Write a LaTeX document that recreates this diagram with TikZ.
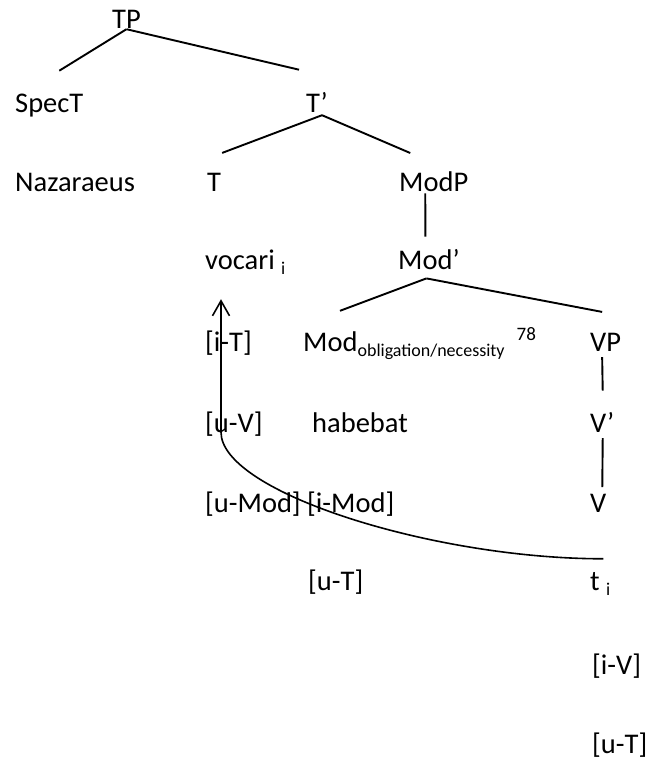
\documentclass[tikz,border=0pt]{standalone}
\usepackage{fontspec}
\setmainfont{Carlito}
\usetikzlibrary{calc, arrows.meta}

\newcommand{\lowidx}[1]{\raisebox{-5pt}{\fontsize{18}{20}\selectfont #1}}
\newcommand{\highidx}[1]{\raisebox{11pt}{\fontsize{19}{20}\selectfont #1}}

\begin{document}
\begin{tikzpicture}[x=1pt, y=-1pt,
    every node/.style={font=\fontsize{28.5}{34}\selectfont, inner sep=0pt, anchor=base west},
    branch/.style={line width=1.9pt},
    movearrow/.style={line width=1.6pt, -{Straight Barb[length=15pt,width=17pt]}}]

  \useasboundingbox (0,0) rectangle (646,760);

  % tree
  \node (tp) at (112,29) {TP};
  \node (spect) at (15,112) {SpecT};
  \node (tbar) at (306,112) {T’};
  \node (naz) at (15,191) {Nazaraeus};
  \node (t) at (207,191) {T};
  \node (modp) at (399,191) {ModP};
  \node (vocari) at (205,269) {vocari \lowidx{i}};
  \node (modbar) at (398,269) {Mod’};
  \node (mod) at (303,351) {Mod\lowidx{obligation/necessity}\hspace{12pt}\highidx{78}};
  \node (vp) at (590,351) {VP};
  \node (habebat) at (312,432) {habebat};
  \node (vbar) at (590,432) {V’};
  \node (v) at (590,512) {V};
  \node (trace) at (590,590) {t \lowidx{i}};

  % features
  \node (it) at (205,351) {[i-T]};
  \node (uv) at (205,432) {[u-V]};
  \node (umod) at (205,512) {[u-Mod]};
  \node (imod) at (307,512) {[i-Mod]};
  \node (ut) at (308,590) {[u-T]};
  \node (iv) at (592,674) {[i-V]};
  \node (utr) at (592,753) {[u-T]};

  \draw[branch] (tp.south) -- ($(spect.north)+(10pt,22.6pt)$);
  \draw[branch] (tp.south) -- ($(tbar.north)+(-18pt,22pt)$);
  \draw[branch] ($(tbar.south)+(5pt,-3pt)$) -- ($(t.north)+(8pt,19.6pt)$);
  \draw[branch] ($(tbar.south)+(5pt,-3pt)$) -- ($(modp.north)+(-23.5pt,18pt)$);
  \draw[branch] ($(modp.south)+(-8.5pt,-2pt)$) -- ($(modbar.north)+(-3.5pt,12pt)$);
  \draw[branch] ($(modbar.south)+(-2.5pt,-9pt)$) -- ($(mod.north west)+(37pt,16pt)$);
  \draw[branch] ($(modbar.south)+(-2.5pt,-9pt)$) -- ($(vp.north)+(-3.5pt,20.6pt)$);
  \draw[branch] ($(vp.south)+(-3.5pt,-6pt)$) -- ($(vbar.north)+(0.5pt,21pt)$);
  \draw[branch] ($(vbar.south)+(0.5pt,-6pt)$) -- ($(v.north)+(4pt,6.5pt)$);

  % movement of the verb
  \draw[movearrow] ($(trace.north)+(3pt,13pt)$) .. controls +(-170pt,0pt) and +(0pt,-60pt) .. ($(vocari.south west)+(16pt,-158pt)$) -- ($(vocari.south west)+(16pt,-25pt)$);
\end{tikzpicture}
\end{document}
